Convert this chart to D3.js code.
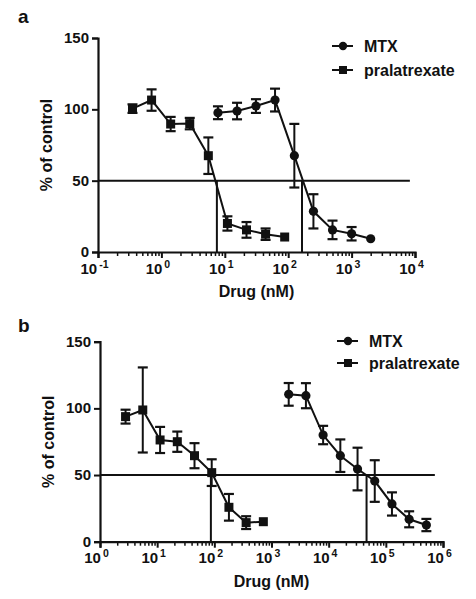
<!DOCTYPE html>
<html>
<head>
<meta charset="utf-8">
<script src="https://cdn.jsdelivr.net/npm/d3@7"></script>
<style>
  html, body { margin: 0; padding: 0; background: #fff; }
  svg { display: block; font-family: "Liberation Sans", Arial, sans-serif; }
</style>
</head>
<body>
<svg id="chart" width="476" height="599"></svg>
<script>
// ---------- Data ----------
const seriesNames = ["MTX", "pralatrexate"];
const yTicks = [0, 50, 100, 150];

// Panel a
const aXExponents = [-1, 0, 1, 2, 3, 4];
const aMtxDose = [7.8, 15.6, 31, 62, 125, 250, 500, 1000, 2000];
const aMtxVal  = [97.6, 98.8, 102.3, 106.5, 67.5, 28.5, 15.5, 12.8, 9.3];
const aMtxErr  = [4.5, 5.8, 4.8, 8, 22.3, 12, 6.5, 4.7, 0];
const aPralaDose = [0.35, 0.7, 1.4, 2.8, 5.5, 11, 22, 44, 88];
const aPralaVal  = [100.5, 106.5, 89.7, 90, 67.5, 20, 15.5, 12.5, 10.5];
const aPralaErr  = [3, 7.5, 5, 4, 12.8, 5, 5.5, 4, 0];
const aIC50 = [165, 7.5];       // MTX, pralatrexate
const aRefEnd = 8300;

// Panel b
const bXExponents = [0, 1, 2, 3, 4, 5, 6];
const bMtxDose = [2000, 4000, 8000, 16000, 32000, 64000, 128000, 256000, 512000];
const bMtxVal  = [110.5, 109.5, 80, 64.5, 54.5, 45.5, 28.3, 16.8, 12.5];
const bMtxErr  = [8.5, 9.4, 6.9, 12.2, 16, 15.6, 8.7, 6, 4.6];
const bPralaDose = [2.8, 5.6, 11.25, 22.5, 45, 90, 180, 360, 720];
const bPralaVal  = [93.8, 98.8, 76.3, 75, 64.5, 51.8, 25.8, 14.3, 15];
const bPralaErr  = [5.2, 31.9, 9.8, 7.6, 9.4, 10, 10, 4.8, 0];
const bIC50 = [46000, 87];
const bRefEnd = 720000;

// ---------- Drawing ----------
const svg = d3.select("#chart");
const ink = "#111";

function drawPanel(opt) {
  const g = svg.append("g");
  const x = d3.scaleLog().domain([Math.pow(10, opt.exps[0]), Math.pow(10, opt.exps[opt.exps.length - 1])])
    .range([opt.left, opt.right]);
  const y = d3.scaleLinear().domain([0, 150]).range([opt.bottom, opt.top]);

  // panel letter
  g.append("text").attr("x", opt.letterX).attr("y", opt.letterY)
    .attr("font-size", 19).attr("font-weight", "bold").attr("fill", ink).text(opt.letter);

  // reference lines
  g.append("line").attr("x1", opt.left).attr("x2", x(opt.refEnd))
    .attr("y1", y(50)).attr("y2", y(50)).attr("stroke", ink).attr("stroke-width", 2);
  opt.ic50.forEach(v => {
    g.append("line").attr("x1", x(v)).attr("x2", x(v))
      .attr("y1", y(50)).attr("y2", y(0)).attr("stroke", ink).attr("stroke-width", 2);
  });

  // y axis
  const yAxis = d3.axisLeft(y).tickValues(yTicks).tickSize(6).tickPadding(3).tickFormat(d3.format("d"));
  const ya = g.append("g").attr("transform", `translate(${opt.left},0)`).call(yAxis);
  ya.select(".domain").attr("stroke", ink).attr("stroke-width", 2.2);
  ya.selectAll(".tick line").attr("stroke", ink).attr("stroke-width", 2);
  ya.selectAll(".tick text").attr("font-size", 15).attr("font-weight", "bold")
    .attr("fill", ink).attr("font-family", "Liberation Sans, Arial, sans-serif")
    .attr("dy", "0.3em");

  // x axis: minor ticks
  const lo = opt.exps[0], hi = opt.exps[opt.exps.length - 1];
  const minor = [];
  for (let e = lo; e < hi; e++) for (let m = 2; m <= 9; m++) minor.push(m * Math.pow(10, e));
  const xMinor = d3.axisBottom(x).tickValues(minor).tickSize(4).tickFormat("");
  const xm = g.append("g").attr("transform", `translate(0,${opt.bottom})`).call(xMinor);
  xm.select(".domain").remove();
  xm.selectAll(".tick line").attr("stroke", ink).attr("stroke-width", 1.5);

  const majors = opt.exps.map(e => Math.pow(10, e));
  const xAxis = d3.axisBottom(x).tickValues(majors).tickSize(6).tickFormat("");
  const xa = g.append("g").attr("transform", `translate(0,${opt.bottom})`).call(xAxis);
  xa.select(".domain").attr("stroke", ink).attr("stroke-width", 2.2);
  xa.selectAll(".tick line").attr("stroke", ink).attr("stroke-width", 2);
  xa.selectAll(".tick").each(function(d, i) {
    const t = d3.select(this).append("text").attr("y", opt.tickLabelDy).attr("x", -4)
      .attr("text-anchor", "middle").attr("fill", ink).attr("font-weight", "bold")
      .attr("font-family", "Liberation Sans, Arial, sans-serif").attr("font-size", 15);
    t.append("tspan").text("10");
    t.append("tspan").attr("dx", 2).attr("dy", -6).attr("font-size", 10.5)
      .text(String(opt.exps[i]));
  });

  // axis titles
  g.append("text").attr("x", (opt.left + opt.right) / 2).attr("y", opt.xTitleY)
    .attr("text-anchor", "middle").attr("font-size", 16).attr("font-weight", "bold")
    .attr("fill", ink).text("Drug (nM)");
  g.append("text").attr("transform", `translate(${opt.yTitleX},${(opt.top + opt.bottom) / 2}) rotate(-90)`)
    .attr("text-anchor", "middle").attr("font-size", 16).attr("font-weight", "bold")
    .attr("fill", ink).text("% of control");

  // series
  const line = d3.line().x(d => x(d.dose)).y(d => y(d.val));
  opt.series.forEach((s, si) => {
    const pts = s.dose.map((d, i) => ({ dose: d, val: s.val[i], err: s.err[i] }));
    g.append("path").datum(pts).attr("d", line).attr("fill", "none")
      .attr("stroke", ink).attr("stroke-width", 2);
    const eb = g.append("g").selectAll("g").data(pts.filter(p => p.err > 0)).join("g");
    eb.append("line").attr("x1", p => x(p.dose)).attr("x2", p => x(p.dose))
      .attr("y1", p => y(p.val - p.err)).attr("y2", p => y(p.val + p.err))
      .attr("stroke", ink).attr("stroke-width", 2);
    [1, -1].forEach(sg => {
      eb.append("line").attr("x1", p => x(p.dose) - 5).attr("x2", p => x(p.dose) + 5)
        .attr("y1", p => y(p.val + sg * p.err)).attr("y2", p => y(p.val + sg * p.err))
        .attr("stroke", ink).attr("stroke-width", 2.2);
    });
    if (s.shape === "circle") {
      g.append("g").selectAll("circle").data(pts).join("circle")
        .attr("cx", p => x(p.dose)).attr("cy", p => y(p.val)).attr("r", 4.6).attr("fill", ink);
    } else {
      g.append("g").selectAll("rect").data(pts).join("rect")
        .attr("x", p => x(p.dose) - 4.5).attr("y", p => y(p.val) - 4.5)
        .attr("width", 9).attr("height", 9).attr("fill", ink);
    }
  });

  // legend
  seriesNames.forEach((name, i) => {
    const ly = opt.legendY[i];
    g.append("line").attr("x1", opt.legendX).attr("x2", opt.legendX + 21)
      .attr("y1", ly).attr("y2", ly).attr("stroke", ink).attr("stroke-width", 2);
    if (i === 0) {
      g.append("circle").attr("cx", opt.legendX + 11).attr("cy", ly).attr("r", 4.2).attr("fill", ink);
    } else {
      g.append("rect").attr("x", opt.legendX + 7).attr("y", ly - 4).attr("width", 8).attr("height", 8).attr("fill", ink);
    }
    g.append("text").attr("x", opt.legendX + 32).attr("y", ly).attr("dy", "0.36em")
      .attr("font-size", 16).attr("font-weight", "bold").attr("fill", ink).text(name);
  });
}

drawPanel({
  letter: "a", letterX: 18, letterY: 23,
  exps: aXExponents, left: 98, right: 415, top: 38, bottom: 252,
  tickLabelDy: 22, xTitleY: 297, yTitleX: 52,
  refEnd: aRefEnd, ic50: aIC50,
  legendX: 332, legendY: [46, 70],
  series: [
    { dose: aMtxDose, val: aMtxVal, err: aMtxErr, shape: "circle" },
    { dose: aPralaDose, val: aPralaVal, err: aPralaErr, shape: "square" }
  ]
});

drawPanel({
  letter: "b", letterX: 18, letterY: 332,
  exps: bXExponents, left: 100, right: 443, top: 341.7, bottom: 541.7,
  tickLabelDy: 21, xTitleY: 587, yTitleX: 54,
  refEnd: bRefEnd, ic50: bIC50,
  legendX: 337, legendY: [341, 363],
  series: [
    { dose: bMtxDose, val: bMtxVal, err: bMtxErr, shape: "circle" },
    { dose: bPralaDose, val: bPralaVal, err: bPralaErr, shape: "square" }
  ]
});
</script>
</body>
</html>
